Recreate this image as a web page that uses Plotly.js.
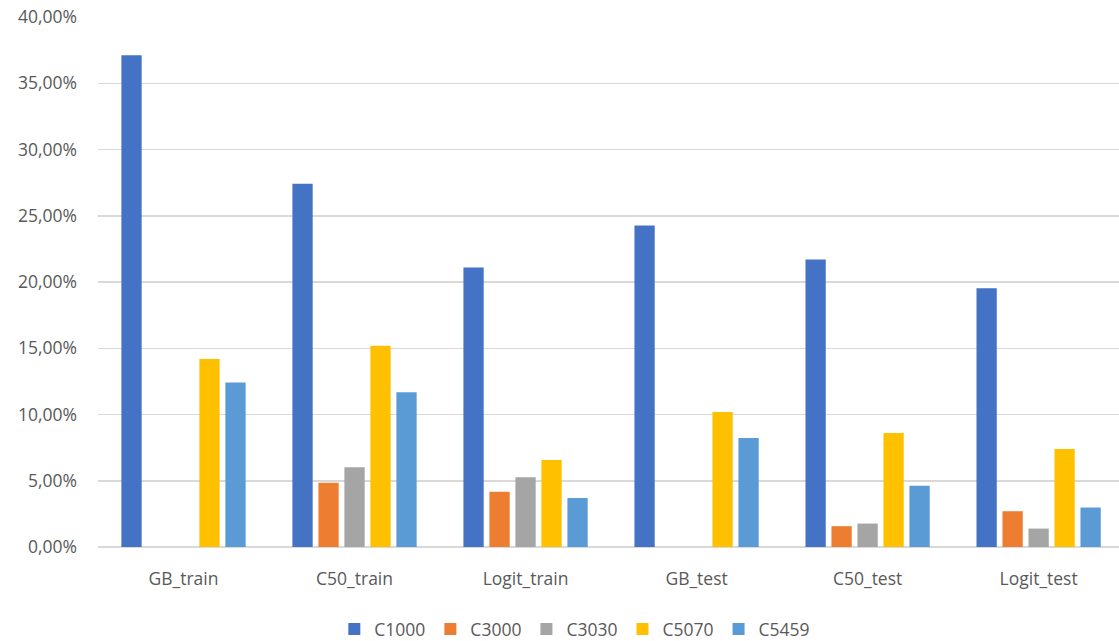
<!DOCTYPE html>
<html>
<head>
<meta charset="utf-8">
<script src="https://cdn.plot.ly/plotly-3.0.1.min.js"></script>
<style>html,body{margin:0;padding:0;background:#fff;}#chart{width:1119px;height:641px;}</style>
</head>
<body>
<div id="chart"></div>
<script>
const categories = ["GB_train", "C50_train", "Logit_train", "GB_test", "C50_test", "Logit_test"];
const seriesNames = ["C1000", "C3000", "C3030", "C5070", "C5459"];
const C1000 = [0.3712, 0.2742, 0.2109, 0.2427, 0.2170, 0.1952];
const C3000 = [0, 0.0485, 0.0417, 0, 0.0157, 0.0270];
const C3030 = [0, 0.0601, 0.0526, 0, 0.0177, 0.0139];
const C5070 = [0.1418, 0.1518, 0.0657, 0.1018, 0.0861, 0.0740];
const C5459 = [0.1242, 0.1167, 0.0369, 0.0823, 0.0462, 0.0298];
const yTicks = [0, 0.05, 0.10, 0.15, 0.20, 0.25, 0.30, 0.35, 0.40];

const values = [C1000, C3000, C3030, C5070, C5459];
const colors = ["#4472C4", "#ED7D31", "#A5A5A5", "#FFC000", "#5B9BD5"];

const traces = seriesNames.map((n, i) => ({
  type: "bar",
  name: n,
  x: categories,
  y: values[i],
  marker: {color: colors[i], line: {width: 0}},
  hoverinfo: "skip"
}));

const font = {family: "'Open Sans', 'Liberation Sans', sans-serif", size: 17.5, color: "#595959"};

const layout = {
  width: 1119, height: 641,
  margin: {l: 98, r: 0, t: 17, b: 94, pad: 0, autoexpand: false},
  paper_bgcolor: "#fff", plot_bgcolor: "#fff",
  separators: ", ",
  font: font,
  barmode: "group",
  bargap: 0.24,
  bargroupgap: 0.22,
  showlegend: true,
  legend: {orientation: "h", x: 0.467, xanchor: "center", y: -0.155, yanchor: "middle",
           font: font, itemwidth: 30, tracegroupgap: 0},
  xaxis: {type: "category", range: [-0.5, 5.47], showgrid: false, zeroline: false, automargin: false,
          showline: false, ticks: "", ticklabelstandoff: 19, tickfont: font, fixedrange: true},
  yaxis: {range: [0, 0.4], tickvals: yTicks, tickformat: ".2%", showgrid: true, automargin: false,
          gridcolor: "#D9D9D9", gridwidth: 1.5, zeroline: true, zerolinecolor: "#D9D9D9",
          zerolinewidth: 1.5, showline: false, ticks: "", ticklabelstandoff: 20,
          tickfont: font, fixedrange: true}
};

Plotly.newPlot("chart", traces, layout, {staticPlot: true, displayModeBar: false});
</script>
</body>
</html>
